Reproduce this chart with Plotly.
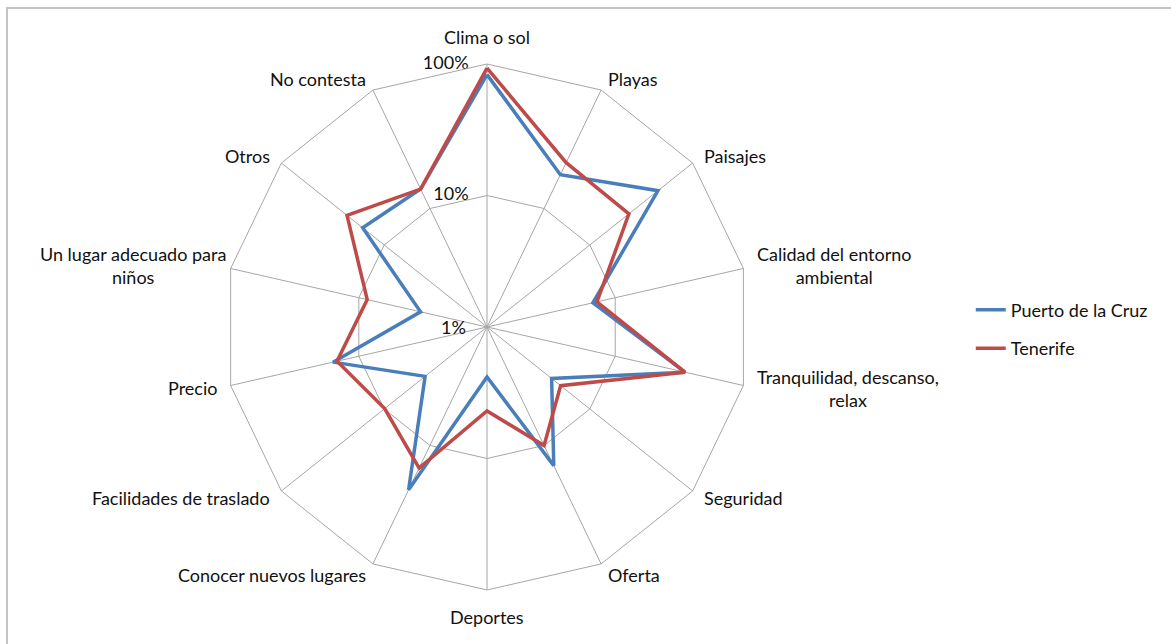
import math
import plotly.graph_objects as go

# Categories, clockwise from the top
categories = [
    "Clima o sol", "Playas", "Paisajes", "Calidad del entorno ambiental",
    "Tranquilidad, descanso, relax", "Seguridad", "Oferta", "Deportes",
    "Conocer nuevos lugares", "Facilidades de traslado", "Precio",
    "Un lugar adecuado para niños", "Otros", "No contesta",
]
category_labels = [
    "Clima o sol", "Playas", "Paisajes", "Calidad del entorno<br>ambiental",
    "Tranquilidad, descanso,<br>relax", "Seguridad", "Oferta", "Deportes",
    "Conocer nuevos lugares", "Facilidades de traslado", "Precio",
    "Un lugar adecuado para<br>niños", "Otros", "No contesta",
]

# Share of answers (%)
puerto_de_la_cruz = [83, 19.3, 46, 6.7, 35, 4.25, 14.8, 2.4, 23.7, 4.0, 15.9, 3.3, 16.2, 14.6]
tenerife = [93, 24.4, 24, 7.2, 35, 5.2, 10, 4.35, 15.5, 9.9, 14.8, 8.6, 23, 14.6]

radial_ticks = [1, 10, 100]
radial_tick_labels = ["1%", "10%", "100%"]

W, H = 1171, 644
font_family = "Lato, 'Open Sans', sans-serif"
text_color = "#111111"
grid_color = "#a6a6a6"
font_size = 18

dom_x = [0.1913, 0.6405]
dom_y = [0.0839, 0.9006]


def closed(values):
    return list(values) + [values[0]]


fig = go.Figure()
fig.add_trace(go.Scatterpolar(
    r=closed(puerto_de_la_cruz), theta=closed(categories), mode="lines",
    name="Puerto de la Cruz", legendgroup="a",
    line=dict(color="#4a7ebb", width=3.5),
))
fig.add_trace(go.Scatterpolar(
    r=closed(tenerife), theta=closed(categories), mode="lines",
    name="Tenerife", legendgroup="b",
    line=dict(color="#be4b48", width=3.5),
))

# Radial scale labels for the rings, set just left of the vertical spoke
pad = "\u00a0" * 4
fig.add_trace(go.Scatterpolar(
    r=radial_ticks[1:], theta=[categories[0]] * (len(radial_ticks) - 1), mode="text",
    text=[t + pad for t in radial_tick_labels[1:]], textposition="middle left",
    textfont=dict(size=font_size, color=text_color, family=font_family),
    showlegend=False, hoverinfo="skip", cliponaxis=False,
))

# Geometry of the polar area in pixels
cx_px = (dom_x[0] + dom_x[1]) / 2 * W
cy_px = (dom_y[0] + dom_y[1]) / 2 * H
radius_px = min((dom_x[1] - dom_x[0]) * W, (dom_y[1] - dom_y[0]) * H) / 2

annotations = [
    # Scale label at the centre (lowest value of the log scale)
    dict(x=cx_px / W, y=cy_px / H, xref="paper", yref="paper",
         text=radial_tick_labels[0], showarrow=False,
         xanchor="right", yanchor="middle", xshift=-19,
         font=dict(size=font_size, color=text_color, family=font_family)),
]

# Category labels around the outer ring
label_gap = 12
extra_shift = {"Un lugar adecuado para niños": 9}
n = len(categories)
for i, (cat, label) in enumerate(zip(categories, category_labels)):
    ang = 2 * math.pi * i / n
    sx, sy = math.sin(ang), math.cos(ang)
    d = radius_px + label_gap
    px, py = cx_px + d * sx, cy_px + d * sy
    if sx > 0.1:
        xanchor, yanchor, yshift = "left", "middle", 0
    elif sx < -0.1:
        xanchor, yanchor, yshift = "right", "middle", 0
    else:
        xanchor = "center"
        yanchor = "bottom" if sy > 0 else "top"
        yshift = 2 if sy > 0 else -2
    annotations.append(dict(
        x=px / W, y=py / H, xref="paper", yref="paper",
        text=label, showarrow=False, align="center",
        xanchor=xanchor, yanchor=yanchor, yshift=yshift,
        xshift=extra_shift.get(cat, 0),
        font=dict(size=font_size, color=text_color, family=font_family),
    ))

fig.update_layout(
    width=W, height=H,
    margin=dict(l=0, r=0, t=0, b=0),
    paper_bgcolor="white",
    font=dict(family=font_family, size=font_size, color=text_color),
    polar=dict(
        domain=dict(x=dom_x, y=dom_y),
        bgcolor="white",
        gridshape="linear",
        angularaxis=dict(
            type="category", categoryarray=categories,
            direction="clockwise", rotation=90,
            showline=True, linecolor=grid_color, linewidth=1,
            showgrid=True, gridcolor=grid_color, gridwidth=1,
            ticks="", showticklabels=False,
        ),
        radialaxis=dict(
            type="log", range=[0, 2],
            tickmode="array", tickvals=radial_ticks[1:],
            angle=90, showticklabels=False,
            showline=False, showgrid=True, gridcolor=grid_color, gridwidth=1,
            ticks="",
        ),
    ),
    showlegend=True,
    legend=dict(
        x=0.829, y=0.489, xanchor="left", yanchor="middle",
        traceorder="grouped", tracegroupgap=12,
        font=dict(size=font_size, color=text_color, family=font_family),
        bgcolor="rgba(0,0,0,0)",
    ),
    annotations=annotations,
    shapes=[
        dict(type="rect", xref="paper", yref="paper",
             x0=7 / W, x1=1.01, y0=-0.01, y1=1 - 8 / H,
             line=dict(color="#c4c4c4", width=2), fillcolor="rgba(0,0,0,0)"),
    ],
)

fig.write_html("out.html")
